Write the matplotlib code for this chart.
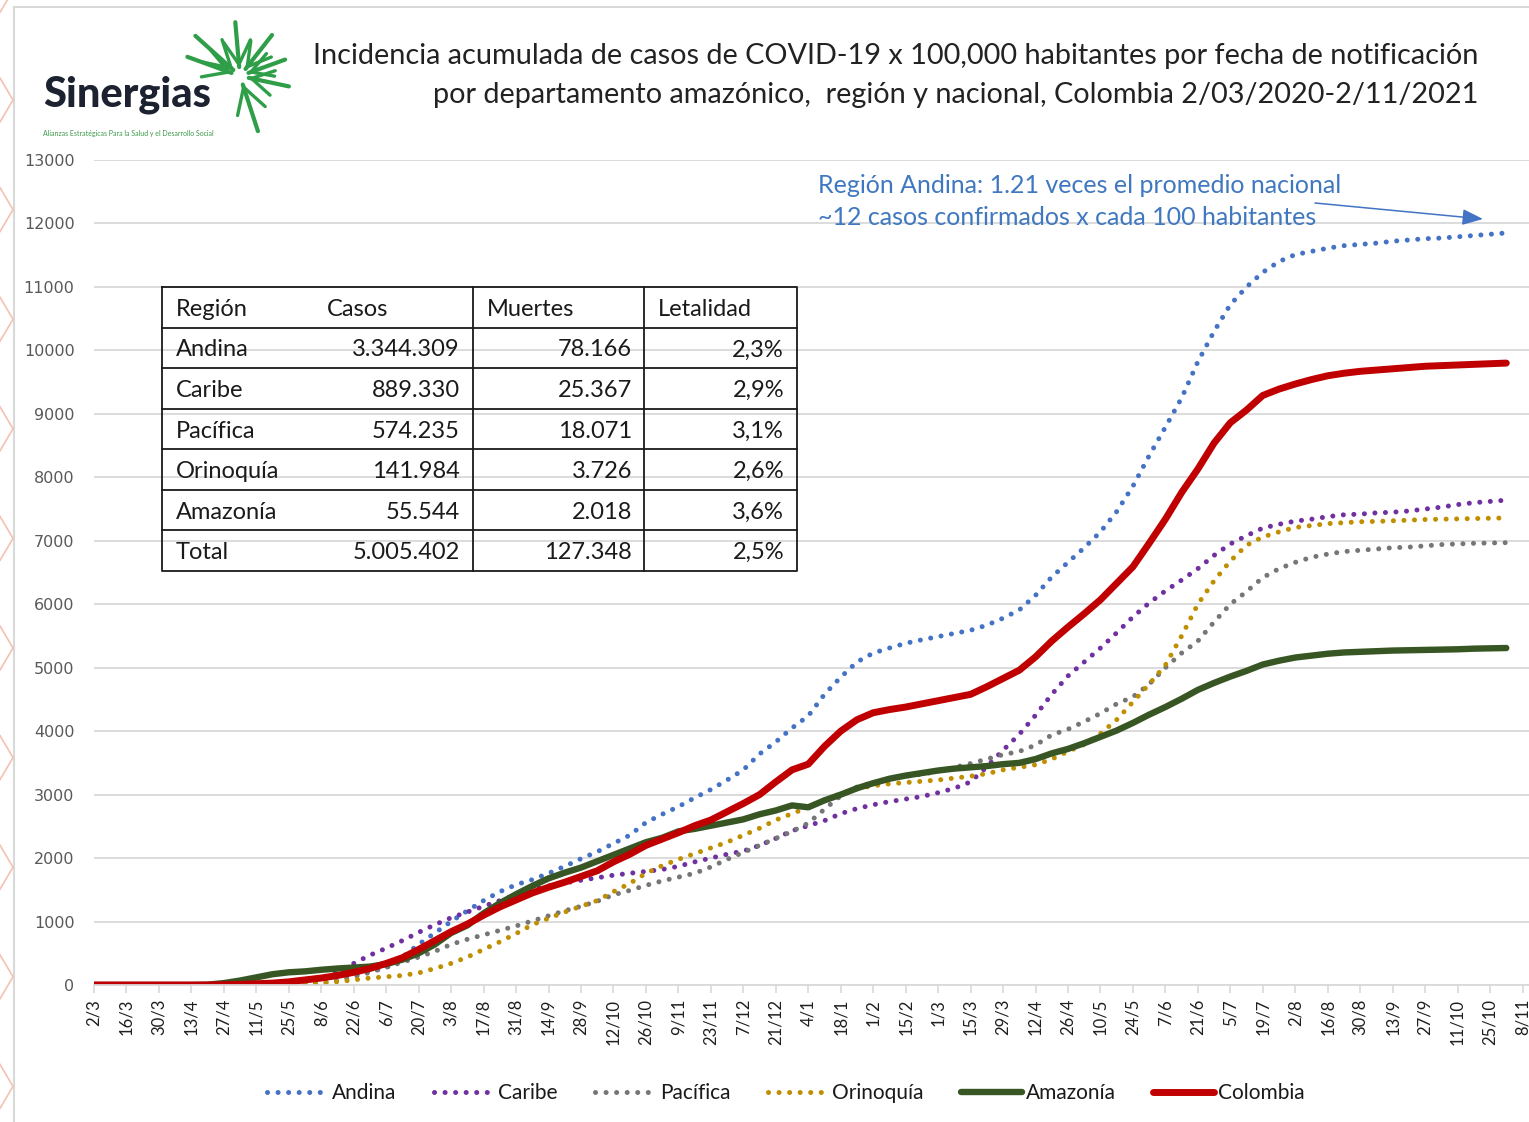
import matplotlib
matplotlib.use('Agg')
import matplotlib.pyplot as plt
import matplotlib.dates as mdates
import numpy as np
import pandas as pd

plt.rcParams['font.family'] = ['Lato', 'DejaVu Sans']

W, H = 1529, 1122
start = pd.Timestamp('2020-03-02')
dates = pd.date_range(start, periods=88, freq='7D')

andina = [0, 0, 0, 0, 0, 2, 5, 10, 15, 20, 28, 35, 45, 70, 95, 125, 160, 215, 270, 440,
          640, 820, 1000, 1170, 1330, 1470, 1580, 1660, 1760, 1870, 1990, 2100, 2230, 2360, 2560, 2690,
          2810, 2950, 3080, 3230, 3390, 3640, 3830, 4050, 4240, 4580, 4850, 5090, 5230, 5310,
          5385, 5440, 5490, 5540, 5590, 5670, 5780, 5910, 6140, 6430, 6660, 6890, 7140, 7460,
          7860, 8340, 8790, 9250, 9820, 10300, 10720, 11000, 11230, 11400, 11510, 11560, 11610,
          11650, 11670, 11690, 11720, 11740, 11760, 11770, 11790, 11810, 11830, 11850]
caribe = [0, 0, 0, 0, 0, 0, 0, 0, 0, 0, 5, 10, 20, 40, 100, 200, 340, 470, 580, 700,
          830, 950, 1060, 1150, 1240, 1330, 1420, 1500, 1560, 1610, 1650, 1690, 1730, 1760, 1790, 1820,
          1870, 1940, 2000, 2060, 2110, 2200, 2310, 2430, 2510, 2590, 2700, 2780, 2840, 2890,
          2930, 2970, 3030, 3100, 3200, 3440, 3700, 3950, 4250, 4580, 4870, 5090, 5310, 5550,
          5800, 6020, 6210, 6380, 6560, 6770, 6950, 7080, 7200, 7260, 7310, 7340, 7380,
          7410, 7420, 7440, 7450, 7470, 7500, 7530, 7570, 7600, 7620, 7640]
pacifica = [0, 0, 0, 0, 0, 0, 0, 0, 0, 0, 0, 0, 0, 10, 30, 70, 130, 200, 280, 360,
            440, 530, 640, 720, 790, 860, 930, 1010, 1090, 1170, 1240, 1320, 1420, 1490, 1570, 1640,
            1700, 1760, 1860, 1980, 2090, 2200, 2310, 2420, 2550, 2770, 2980, 3120, 3190, 3250,
            3290, 3320, 3370, 3430, 3490, 3560, 3630, 3680, 3780, 3940, 4030, 4150, 4280, 4430,
            4540, 4740, 5000, 5230, 5420, 5720, 6000, 6200, 6420, 6560, 6660, 6740, 6790,
            6830, 6850, 6870, 6890, 6900, 6920, 6940, 6950, 6960, 6965, 6970]
orinoquia = [0, 0, 0, 0, 0, 0, 0, 0, 0, 0, 0, 0, 5, 15, 30, 50, 80, 110, 130, 150,
             190, 260, 340, 440, 560, 680, 810, 950, 1050, 1150, 1240, 1330, 1470, 1600, 1760, 1880,
             1980, 2070, 2160, 2250, 2360, 2470, 2600, 2700, 2800, 2900, 3020, 3090, 3140, 3170,
             3190, 3210, 3230, 3260, 3290, 3330, 3390, 3430, 3470, 3560, 3680, 3790, 3960, 4180,
             4460, 4740, 5040, 5500, 6000, 6370, 6680, 6930, 7060, 7140, 7210, 7240, 7270,
             7285, 7300, 7305, 7315, 7325, 7335, 7340, 7345, 7350, 7355, 7360]
amazonia = [0, 0, 0, 0, 0, 0, 0, 5, 30, 70, 120, 170, 200, 215, 240, 260, 275, 290, 330, 400,
            500, 640, 820, 940, 1130, 1290, 1430, 1560, 1680, 1770, 1850, 1950, 2050, 2150, 2250, 2320,
            2420, 2460, 2510, 2560, 2610, 2690, 2750, 2830, 2800, 2910, 3000, 3100, 3180, 3250,
            3300, 3340, 3380, 3410, 3430, 3450, 3480, 3500, 3560, 3650, 3720, 3810, 3910, 4010,
            4130, 4260, 4380, 4510, 4650, 4760, 4860, 4950, 5050, 5110, 5160, 5190, 5220,
            5240, 5250, 5260, 5270, 5275, 5280, 5285, 5290, 5300, 5305, 5310]
colombia = [0, 0, 0, 0, 0, 0, 0, 0, 5, 10, 20, 30, 50, 80, 110, 150, 200, 260, 340, 430,
            560, 700, 840, 960, 1100, 1230, 1340, 1450, 1540, 1620, 1710, 1800, 1940, 2060, 2200, 2300,
            2400, 2510, 2600, 2730, 2860, 3000, 3200, 3390, 3480, 3760, 4000, 4180, 4290, 4340,
            4380, 4430, 4480, 4530, 4580, 4700, 4830, 4960, 5170, 5420, 5640, 5850, 6070, 6330,
            6590, 6960, 7340, 7760, 8130, 8540, 8860, 9060, 9290, 9390, 9470, 9540, 9600,
            9640, 9670, 9690, 9710, 9730, 9750, 9760, 9770, 9780, 9790, 9800]

series_names = ['Andina', 'Caribe', 'Pacífica', 'Orinoquía', 'Amazonía', 'Colombia']
series_vals = [andina, caribe, pacifica, orinoquia, amazonia, colombia]
series_colors = ['#4472C4', '#7030A0', '#767676', '#BF8F00', '#375623', '#C00000']
series_dotted = [True, True, True, True, False, False]

tick_dates = pd.date_range(start, periods=45, freq='14D')
tick_labels = [f"{d.day}/{d.month}" for d in tick_dates]
y_ticks = list(range(0, 13001, 1000))

table_header = ['Región', 'Casos', 'Muertes', 'Letalidad']
table_regions = ['Andina', 'Caribe', 'Pacífica', 'Orinoquía', 'Amazonía', 'Total']
table_casos = ['3.344.309', '889.330', '574.235', '141.984', '55.544', '5.005.402']
table_muertes = ['78.166', '25.367', '18.071', '3.726', '2.018', '127.348']
table_letal = ['2,3%', '2,9%', '3,1%', '2,6%', '3,6%', '2,5%']

title_lines = ['Incidencia acumulada de casos de COVID-19 x 100,000 habitantes por fecha de notificación',
               'por departamento amazónico,  región y nacional, Colombia 2/03/2020-2/11/2021']
note_lines = ['Región Andina: 1.21 veces el promedio nacional',
              '~12 casos confirmados x cada 100 habitantes']

fig = plt.figure(figsize=(W / 100, H / 100), dpi=100)
fig.patch.set_facecolor('white')

ax = fig.add_axes([94 / W, 1 - 985 / H, 1 - 94 / W, (985 - 160) / H], zorder=2)
ax.patch.set_alpha(0)

# overlay axes in pixel coordinates for decorations (drawn above gridlines)
ov = fig.add_axes([0, 0, 1, 1], zorder=3)
ov.set_xlim(0, W)
ov.set_ylim(H, 0)
ov.axis('off')

x0 = mdates.date2num(start)
ax.set_xlim(x0, x0 + 618.8)
ax.set_ylim(0, 13000)

handles = []
for name, vals, col, dotted in zip(series_names, series_vals, series_colors, series_dotted):
    if dotted:
        ln, = ax.plot(dates, vals, color=col, lw=3.6, linestyle=(0, (0.01, 2.1)),
                      dash_capstyle='round', label=name)
    else:
        ln, = ax.plot(dates, vals, color=col, lw=4.6 if name == 'Amazonía' else 5.0,
                      solid_capstyle='round', solid_joinstyle='round', label=name)
    handles.append(ln)

ax.set_yticks(y_ticks)
ax.set_yticklabels([str(v) for v in y_ticks], fontfamily='DejaVu Sans', fontsize=11.5, color='#595959')
ax.set_xticks(tick_dates)
ax.set_xticklabels(tick_labels, rotation=90, fontsize=12, color='#1f1f1f')
ax.tick_params(axis='y', length=0, pad=14)
ax.tick_params(axis='x', length=6, width=1.2, color='#d9d9d9', pad=4)
ax.grid(axis='y', color='#d9d9d9', lw=1.3)
ax.set_axisbelow(True)
for s in ['top', 'right', 'left']:
    ax.spines[s].set_visible(False)
ax.spines['bottom'].set_color('#d9d9d9')
ax.spines['bottom'].set_linewidth(1.3)

# legend
fig.legend(handles=handles, labels=series_names, loc='center', bbox_to_anchor=(0.514, 1 - 1093 / H),
           ncol=6, frameon=False, fontsize=15, handlelength=2.9, handletextpad=0.2,
           columnspacing=1.8, labelcolor='#1a1a1a')

# frame and left chevrons
ov.plot([14, 14], [7, H], color='#d9d9d9', lw=1.5)
ov.plot([14, W], [7, 7], color='#d9d9d9', lw=1.5)
for i in range(-1, 10):
    yc = 100 + 109.6 * i
    ov.plot([0, 13, 0], [yc - 22, yc, yc + 22], color='#f6c0b2', lw=1.2)

# title
for i, t in enumerate(title_lines):
    ov.text(1478, 56 + 39 * i, t, ha='right', va='center', fontsize=20.8, color='#222222')

# note + arrow
for i, t in enumerate(note_lines):
    ov.text(818, 185 + 32 * i, t, ha='left', va='center', fontsize=18, color='#3F78C0')
ov.annotate('', xy=(1483, 219), xytext=(1315, 203),
            arrowprops=dict(arrowstyle='-|>,head_length=0.9,head_width=0.35', color='#4472C4',
                            lw=1.1, mutation_scale=14, shrinkA=0, shrinkB=0))

# logo
ov.text(43, 106, 'Sinergias', ha='left', va='baseline', fontsize=30, fontweight='black', color='#1c2230')
ov.text(43, 133, 'Alianzas Estratégicas Para la Salud y el Desarrollo Social', ha='left', va='center',
        fontsize=5.0, color='#3d9a4b')
cx, cy = 240, 76
for ang, r1 in [(95, 54), (52, 52), (20, 48), (-12, 50), (-72, 58), (138, 60), (160, 56)]:
    a = np.deg2rad(ang)
    ux, uy = np.cos(a), -np.sin(a)
    r0 = 9
    ov.plot([cx + ux * r0, cx + ux * r1], [cy + uy * r0, cy + uy * r1], color='#2e9e48', lw=3.0,
            solid_capstyle='round')
    for side in (1, -1):
        b = a + side * np.deg2rad(30)
        bx, by = np.cos(b), -np.sin(b)
        px, py = cx + ux * r0 * 1.3, cy + uy * r0 * 1.3
        ov.plot([px, px + bx * r1 * 0.5], [py, py + by * r1 * 0.5], color='#2e9e48', lw=2.4,
                solid_capstyle='round')

# table
tl, tr, tt, tb = 162, 797, 287, 571
rows_y = np.linspace(tt, tb, 8)
ov.plot([tl, tr, tr, tl, tl], [tt, tt, tb, tb, tt], color='#1a1a1a', lw=1.3)
for yy in rows_y[1:-1]:
    ov.plot([tl, tr], [yy, yy], color='#1a1a1a', lw=1.3)
for xx in (473, 644):
    ov.plot([xx, xx], [tt, tb], color='#1a1a1a', lw=1.3)
tkw = dict(fontsize=17, color='#1a1a1a', va='center')
ym = (rows_y[:-1] + rows_y[1:]) / 2 + 2
ov.text(176, ym[0], table_header[0], ha='left', **tkw)
ov.text(327, ym[0], table_header[1], ha='left', **tkw)
ov.text(487, ym[0], table_header[2], ha='left', **tkw)
ov.text(658, ym[0], table_header[3], ha='left', **tkw)
for i in range(6):
    ov.text(176, ym[i + 1], table_regions[i], ha='left', **tkw)
    ov.text(460, ym[i + 1], table_casos[i], ha='right', **tkw)
    ov.text(632, ym[i + 1], table_muertes[i], ha='right', **tkw)
    ov.text(784, ym[i + 1], table_letal[i], ha='right', **tkw)

fig.savefig('out.png', dpi=100)
